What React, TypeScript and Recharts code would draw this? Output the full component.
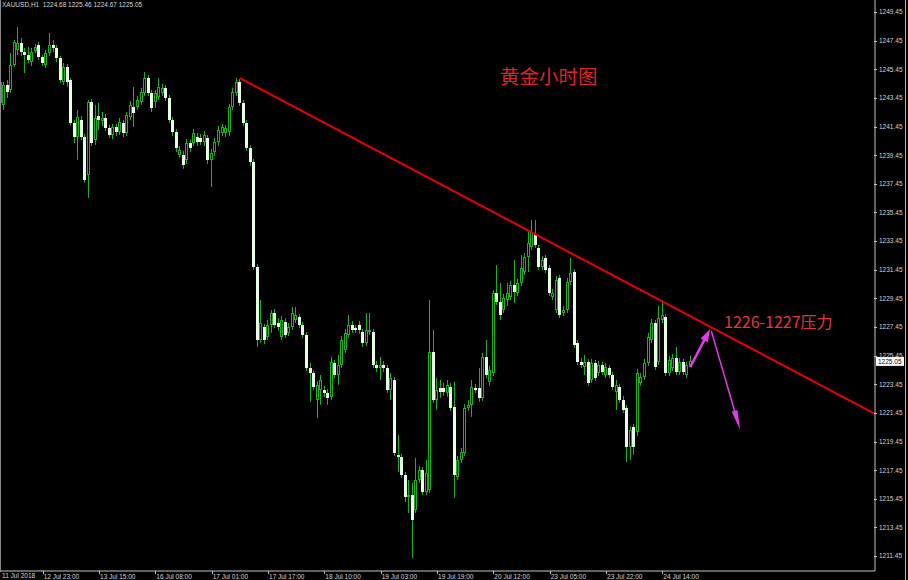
import React from "react";
import { Bar, ComposedChart, ReferenceLine, XAxis, YAxis } from "recharts";

// XAUUSD H1 bars as [open, high, low, close], grouped by the time label they start at
const BARS_12JUL_11 = [
  [1243.10, 1244.70, 1242.26, 1244.56], [1242.96, 1244.56, 1242.61, 1244.35], [1244.35, 1244.70, 1243.45, 1243.87],
  [1244.01, 1246.59, 1243.80, 1245.75], [1245.75, 1247.50, 1245.61, 1247.36], [1246.80, 1248.40, 1246.45, 1247.29],
  [1247.29, 1247.64, 1246.38, 1246.66], [1246.66, 1246.94, 1245.19, 1246.45], [1246.45, 1247.01, 1245.89, 1246.10],
  [1245.96, 1246.94, 1245.68, 1246.66], [1246.73, 1247.22, 1246.59, 1247.01], [1247.15, 1247.36, 1246.10, 1246.31],
];
const BARS_12JUL_23 = [
  [1246.31, 1246.45, 1245.68, 1245.89], [1245.75, 1246.80, 1245.54, 1246.59], [1246.59, 1247.99, 1246.38, 1247.15],
  [1247.15, 1247.50, 1246.66, 1246.94], [1246.94, 1247.15, 1245.96, 1246.24], [1246.24, 1246.38, 1244.49, 1244.70],
  [1244.56, 1245.89, 1244.35, 1245.61], [1245.61, 1245.82, 1244.22, 1244.56], [1244.70, 1244.84, 1241.49, 1241.70],
  [1241.70, 1241.91, 1240.30, 1240.72], [1240.72, 1242.61, 1239.12, 1242.12], [1241.91, 1242.19, 1240.51, 1240.72],
  [1240.72, 1240.93, 1237.51, 1237.72], [1238.07, 1243.31, 1236.46, 1243.17], [1243.17, 1243.38, 1240.09, 1240.30],
  [1240.51, 1242.96, 1240.16, 1242.05],
];
const BARS_13JUL_15 = [
  [1242.19, 1243.10, 1241.21, 1241.91], [1241.84, 1242.47, 1241.49, 1242.05], [1242.05, 1242.33, 1241.14, 1241.35],
  [1241.35, 1241.56, 1240.65, 1240.86], [1240.86, 1241.63, 1240.58, 1241.42], [1241.42, 1241.63, 1240.79, 1241.07],
  [1241.07, 1242.05, 1240.86, 1241.77], [1241.70, 1241.91, 1240.72, 1241.00], [1241.00, 1242.47, 1240.79, 1242.26],
  [1242.12, 1243.24, 1241.91, 1242.96], [1242.82, 1244.22, 1241.42, 1242.40], [1242.82, 1243.59, 1242.61, 1243.31],
  [1243.17, 1244.15, 1242.96, 1243.87], [1243.80, 1245.26, 1243.59, 1244.84], [1244.84, 1245.05, 1243.59, 1243.80],
  [1243.80, 1244.01, 1242.47, 1242.75],
];
const BARS_16JUL_08 = [
  [1243.17, 1244.01, 1242.75, 1243.80], [1243.52, 1244.84, 1243.31, 1244.22], [1243.80, 1244.42, 1243.59, 1244.15],
  [1244.15, 1244.35, 1243.24, 1243.45], [1243.45, 1243.66, 1241.70, 1241.91], [1241.91, 1242.12, 1240.79, 1241.07],
  [1241.07, 1241.28, 1239.68, 1239.95], [1239.47, 1240.09, 1239.26, 1239.82], [1239.47, 1239.75, 1238.49, 1238.77],
  [1239.12, 1240.58, 1238.84, 1240.30], [1240.30, 1240.51, 1239.68, 1239.95], [1240.30, 1241.28, 1240.09, 1241.00],
  [1240.72, 1241.00, 1240.09, 1240.37], [1240.65, 1240.93, 1240.16, 1240.37], [1240.37, 1241.14, 1240.09, 1240.86],
  [1240.65, 1240.86, 1238.84, 1239.12],
];
const BARS_17JUL_01 = [
  [1239.12, 1239.88, 1237.23, 1239.61], [1239.68, 1240.65, 1239.40, 1240.37], [1240.37, 1241.49, 1240.09, 1241.21],
  [1241.00, 1241.63, 1240.79, 1241.42], [1241.00, 1241.56, 1240.72, 1241.35], [1241.07, 1243.03, 1240.79, 1242.82],
  [1242.82, 1244.15, 1242.61, 1243.87], [1243.80, 1244.84, 1243.59, 1244.56], [1244.56, 1244.77, 1242.89, 1243.10],
  [1243.10, 1243.31, 1241.49, 1241.70], [1241.70, 1241.91, 1239.75, 1239.95], [1239.95, 1240.16, 1238.70, 1238.98],
  [1238.98, 1239.19, 1231.44, 1231.64], [1231.64, 1231.85, 1226.06, 1226.55], [1226.55, 1229.34, 1226.34, 1227.73],
  [1227.45, 1227.66, 1226.27, 1226.55],
];
const BARS_17JUL_17 = [
  [1226.76, 1227.94, 1226.55, 1227.59], [1227.59, 1228.64, 1227.04, 1228.43], [1228.43, 1228.71, 1227.38, 1227.59],
  [1227.73, 1228.08, 1227.18, 1227.45], [1226.76, 1228.22, 1226.55, 1227.94], [1227.80, 1228.08, 1226.69, 1226.90],
  [1227.04, 1227.73, 1226.83, 1227.45], [1227.45, 1228.85, 1227.25, 1228.43], [1227.94, 1228.85, 1227.73, 1228.29],
  [1228.15, 1228.36, 1227.38, 1227.59], [1227.59, 1227.80, 1226.69, 1226.90], [1226.90, 1227.11, 1224.38, 1224.59],
  [1224.59, 1224.94, 1222.22, 1224.24], [1224.24, 1224.45, 1223.06, 1223.27], [1222.36, 1223.68, 1221.10, 1223.41],
  [1223.06, 1224.10, 1222.01, 1223.75],
];
const BARS_18JUL_10 = [
  [1223.06, 1223.34, 1222.57, 1222.85], [1222.85, 1223.13, 1222.01, 1222.50], [1222.57, 1225.36, 1222.36, 1225.01],
  [1224.94, 1225.15, 1223.89, 1224.10], [1224.10, 1225.50, 1223.41, 1224.80], [1224.80, 1226.83, 1224.59, 1226.55],
  [1225.85, 1227.32, 1225.64, 1227.04], [1226.90, 1228.29, 1226.69, 1227.59], [1227.59, 1227.87, 1227.04, 1227.25],
  [1227.38, 1227.59, 1227.04, 1227.25], [1227.59, 1227.87, 1226.97, 1227.25], [1227.11, 1227.32, 1226.06, 1226.34],
  [1226.34, 1228.43, 1226.13, 1227.25], [1227.11, 1228.43, 1226.90, 1227.25], [1227.11, 1227.32, 1224.59, 1224.80],
  [1224.80, 1225.08, 1224.31, 1224.59],
];
const BARS_19JUL_03 = [
  [1224.59, 1225.36, 1223.75, 1224.80], [1224.80, 1225.08, 1224.31, 1224.59], [1224.59, 1224.80, 1222.85, 1223.06],
  [1223.06, 1224.24, 1222.36, 1223.89], [1223.75, 1223.96, 1218.45, 1218.66], [1218.52, 1219.91, 1217.33, 1218.38],
  [1218.38, 1218.59, 1216.91, 1217.12], [1217.12, 1217.33, 1215.23, 1215.58], [1215.58, 1216.77, 1214.46, 1215.72],
  [1215.72, 1216.56, 1211.32, 1213.98], [1214.67, 1218.31, 1214.46, 1216.77], [1216.77, 1217.75, 1216.56, 1217.47],
  [1217.47, 1217.68, 1215.72, 1215.93], [1215.93, 1218.17, 1215.72, 1217.26], [1216.07, 1229.34, 1215.86, 1225.71],
  [1225.71, 1227.25, 1222.15, 1222.36],
];
const BARS_19JUL_19 = [
  [1222.36, 1223.89, 1221.66, 1223.06], [1223.20, 1223.75, 1222.50, 1222.92], [1223.20, 1223.55, 1222.64, 1222.92],
  [1222.85, 1223.75, 1222.57, 1223.41], [1223.27, 1223.55, 1221.59, 1221.80], [1221.87, 1223.62, 1215.51, 1217.12],
  [1216.98, 1218.45, 1216.77, 1218.17], [1218.17, 1219.00, 1217.96, 1218.73], [1218.66, 1222.08, 1218.45, 1221.80],
  [1221.80, 1222.36, 1221.59, 1222.01], [1222.01, 1223.75, 1221.17, 1223.27], [1223.20, 1223.48, 1222.85, 1223.06],
  [1223.20, 1224.59, 1222.22, 1222.50], [1222.50, 1225.64, 1222.29, 1225.36], [1225.36, 1226.55, 1223.89, 1224.10],
  [1223.62, 1224.73, 1223.34, 1224.45],
];
const BARS_20JUL_12 = [
  [1224.24, 1230.04, 1224.03, 1229.83], [1229.83, 1231.78, 1228.99, 1229.20], [1229.20, 1230.53, 1227.94, 1228.29],
  [1228.64, 1229.76, 1228.43, 1229.48], [1229.34, 1230.53, 1228.92, 1229.83], [1229.55, 1230.67, 1229.34, 1230.39],
  [1230.39, 1232.13, 1229.13, 1229.90], [1229.83, 1230.81, 1229.62, 1230.53], [1230.53, 1232.48, 1230.32, 1231.57],
  [1231.30, 1232.62, 1231.09, 1232.34], [1232.34, 1234.09, 1231.30, 1233.32], [1233.04, 1234.93, 1232.83, 1234.09],
  [1233.88, 1234.93, 1232.97, 1233.18], [1232.97, 1233.18, 1231.44, 1231.64], [1231.64, 1232.41, 1231.44, 1232.13],
  [1232.27, 1232.48, 1231.23, 1231.44],
];
const BARS_23JUL_05 = [
  [1231.57, 1231.78, 1229.62, 1229.83], [1229.55, 1230.11, 1229.34, 1229.83], [1228.64, 1231.02, 1228.43, 1230.74],
  [1230.88, 1231.09, 1228.08, 1228.29], [1228.43, 1228.92, 1228.22, 1228.64], [1228.64, 1230.88, 1228.43, 1230.60],
  [1230.60, 1232.27, 1230.39, 1231.23], [1231.30, 1231.50, 1225.99, 1226.20], [1226.34, 1226.55, 1224.80, 1225.01],
  [1225.01, 1225.29, 1224.59, 1224.80], [1224.66, 1225.50, 1224.10, 1225.01], [1225.01, 1225.22, 1223.34, 1223.55],
  [1223.75, 1225.22, 1223.55, 1224.94], [1224.94, 1225.15, 1223.68, 1223.89], [1224.24, 1225.08, 1224.03, 1224.80],
  [1224.80, 1225.01, 1224.10, 1224.31],
];
const BARS_23JUL_22 = [
  [1224.10, 1224.94, 1223.89, 1224.66], [1224.59, 1224.80, 1223.89, 1224.10], [1224.10, 1224.31, 1223.06, 1223.27],
  [1222.92, 1223.75, 1221.66, 1223.41], [1223.27, 1223.48, 1222.15, 1222.36], [1222.36, 1222.64, 1221.45, 1221.66],
  [1221.80, 1222.01, 1218.03, 1219.07], [1219.07, 1220.54, 1218.17, 1220.26], [1220.47, 1220.68, 1218.52, 1219.07],
  [1220.12, 1224.52, 1219.84, 1224.24], [1223.55, 1224.24, 1223.34, 1223.96], [1223.96, 1225.22, 1223.75, 1224.94],
  [1224.94, 1227.04, 1224.73, 1226.76], [1226.55, 1228.01, 1226.34, 1227.73], [1227.73, 1227.94, 1224.45, 1224.66],
  [1225.01, 1228.92, 1224.80, 1228.08],
];
const BARS_24JUL_14 = [
  [1227.94, 1229.34, 1227.73, 1228.29], [1228.15, 1228.36, 1224.03, 1224.24], [1224.24, 1225.43, 1224.03, 1225.15],
  [1224.59, 1225.57, 1224.38, 1225.29], [1225.29, 1226.06, 1224.10, 1224.31], [1224.31, 1225.29, 1224.10, 1225.01],
  [1225.01, 1225.22, 1224.10, 1224.31], [1224.10, 1225.01, 1223.89, 1224.80], [1224.68, 1225.46, 1224.67, 1225.05],
];

const TIME_TICKS = [12, 28, 44, 60, 76, 92, 108, 124, 140, 156, 172, 188];
const TIME_LABELS = [
  "12 Jul 23:00", "13 Jul 15:00", "16 Jul 08:00", "17 Jul 01:00", "17 Jul 17:00", "18 Jul 10:00",
  "19 Jul 03:00", "19 Jul 19:00", "20 Jul 12:00", "23 Jul 05:00", "23 Jul 22:00", "24 Jul 14:00",
];
const PRICE_TICKS = [
  1211.45, 1213.45, 1215.45, 1217.45, 1219.45, 1221.45, 1223.45, 1225.45, 1227.45, 1229.45,
  1231.45, 1233.45, 1235.45, 1237.45, 1239.45, 1241.45, 1243.45, 1245.45, 1247.45, 1249.45,
];
const LAST_PRICE = 1225.05;

// resistance line and the expected path (bar index, price)
const TREND_LINE = [{ x: 68, y: 1244.84 }, { x: 248.4, y: 1221.38 }];
const ARROW_UP = [{ x: 195.9, y: 1224.66 }, { x: 201.6, y: 1227.32 }];
const ARROW_DOWN = [{ x: 201.9, y: 1227.18 }, { x: 210.1, y: 1220.26 }];

const WICK = "#22ad22";
const BEAR_FILL = "#e4ffe4";
const AXIS = "#c4c4c4";
const AXIS_TEXT = "#d4d4d4";
const FONT = '"Liberation Sans", Arial, sans-serif';
const CJK = '"Noto Sans CJK SC", sans-serif';
const MAGENTA = "#e83ae8";

const bars = [
  BARS_12JUL_11, BARS_12JUL_23, BARS_13JUL_15, BARS_16JUL_08, BARS_17JUL_01, BARS_17JUL_17, BARS_18JUL_10,
  BARS_19JUL_03, BARS_19JUL_19, BARS_20JUL_12, BARS_23JUL_05, BARS_23JUL_22, BARS_24JUL_14,
].flat();
const data = bars.map(([o, h, l, c], i) => ({ i, o, h, l, c, range: [l, h] }));

function Candle(props: any) {
  const { x, y, width, height } = props;
  const p = props.payload ?? props;
  if (p == null || p.h == null) return null;
  const top = Math.min(y, y + height);
  const hgt = Math.abs(height);
  const cx = Math.floor(x + width / 2);
  const py = (v: number) => top + ((p.h - v) / (p.h - p.l || 1)) * hgt;
  const bTop = Math.round(py(Math.max(p.o, p.c)));
  const bBot = Math.round(py(Math.min(p.o, p.c)));
  const bull = p.c >= p.o;
  let body;
  if (bull && bBot - bTop >= 2) {
    body = (
      <rect x={cx - 0.5} y={bTop + 0.5} width={2} height={bBot - bTop - 1} fill="#000" stroke={WICK} strokeWidth={1} />
    );
  } else {
    body = <rect x={cx - 1} y={bTop} width={3} height={Math.max(bBot - bTop, 1)} fill={bull ? WICK : BEAR_FILL} />;
  }
  return (
    <g>
      <line x1={cx + 0.5} x2={cx + 0.5} y1={top} y2={top + hgt} stroke={WICK} strokeWidth={1} />
      {body}
    </g>
  );
}

function PriceTick({ x, y, payload }: any) {
  const ry = Math.round(y) + 0.5;
  return (
    <g>
      <line x1={x - 4} x2={x - 1} y1={ry} y2={ry} stroke={AXIS} />
      <text x={x + 1} y={y} dy="0.36em" fill={AXIS_TEXT} fontSize={6.5} fontFamily={FONT}>
        {Number(payload.value).toFixed(2)}
      </text>
    </g>
  );
}

function TimeTick({ x, y, payload }: any) {
  const label = TIME_LABELS[TIME_TICKS.indexOf(payload.value)];
  const rx = Math.round(x) + 0.5;
  return (
    <g>
      <line x1={rx} x2={rx} y1={y} y2={y + 3} stroke={AXIS} />
      <text x={x + 1} y={y + 8} fill={AXIS_TEXT} fontSize={6.5} fontFamily={FONT} textAnchor="start">
        {label}
      </text>
    </g>
  );
}

function PriceTag({ viewBox }: any) {
  if (!viewBox) return null;
  const x = viewBox.x + viewBox.width + 1;
  const y = viewBox.y;
  return (
    <g>
      <rect x={x} y={y - 4.5} width={28} height={9} fill="#fff" />
      <text x={x + 2} y={y} dy="0.36em" fill="#000" fontSize={6.5} fontFamily={FONT}>
        {LAST_PRICE.toFixed(2)}
      </text>
    </g>
  );
}

function arrowShape(headLen: number, headW: number, lineW: number) {
  return (props: any) => {
    const { x1, y1, x2, y2 } = props;
    if ([x1, y1, x2, y2].some((v) => v == null || isNaN(v))) return <g />;
    const len = Math.hypot(x2 - x1, y2 - y1) || 1;
    const ux = (x2 - x1) / len;
    const uy = (y2 - y1) / len;
    const bx = x2 - ux * headLen;
    const by = y2 - uy * headLen;
    const nx = -uy * (headW / 2);
    const ny = ux * (headW / 2);
    return (
      <g>
        <line x1={x1} y1={y1} x2={bx + ux * 2} y2={by + uy * 2} stroke={MAGENTA} strokeWidth={lineW} />
        <polygon points={`${x2},${y2} ${bx + nx},${by + ny} ${bx - nx},${by - ny}`} fill={MAGENTA} />
      </g>
    );
  };
}

export default function App() {
  return (
    <div
      style={{
        position: "absolute",
        left: 0,
        top: 0,
        width: 908,
        height: 580,
        background: "#000",
        overflow: "hidden",
      }}
    >
      <ComposedChart width={908} height={580} data={data} margin={{ top: 0, right: 0, bottom: 0, left: 0 }}>
        <XAxis
          type="number"
          dataKey="i"
          domain={[-0.13, 248.4]}
          allowDataOverflow
          ticks={TIME_TICKS}
          interval={0}
          height={9}
          tickSize={0}
          tickMargin={0}
          tickLine={false}
          axisLine={{ stroke: AXIS }}
          tick={<TimeTick />}
        />
        <YAxis
          orientation="right"
          domain={[1210.41, 1250.29]}
          allowDataOverflow
          ticks={PRICE_TICKS}
          interval={0}
          width={33}
          tickSize={0}
          tickMargin={3}
          tickLine={false}
          axisLine={{ stroke: AXIS }}
          tick={<PriceTick />}
        />
        <Bar dataKey="range" barSize={3} shape={<Candle />} isAnimationActive={false} />
        <ReferenceLine segment={TREND_LINE} stroke="#e60000" strokeWidth={2} />
        <ReferenceLine segment={ARROW_UP} shape={arrowShape(13, 8, 2.5)} />
        <ReferenceLine segment={ARROW_DOWN} shape={arrowShape(20, 6, 1.5)} />
        <ReferenceLine y={LAST_PRICE} stroke="none" label={<PriceTag />} />
      </ComposedChart>

      <div
        style={{
          position: "absolute",
          left: 2,
          top: 1,
          fontFamily: FONT,
          fontSize: 6.5,
          lineHeight: "8px",
          color: AXIS_TEXT,
          whiteSpace: "pre",
        }}
      >
        {"XAUUSD,H1  1224.68 1225.46 1224.67 1225.05"}
      </div>
      <div
        style={{
          position: "absolute",
          left: 2,
          top: 572,
          fontFamily: FONT,
          fontSize: 6.5,
          lineHeight: "8px",
          color: AXIS_TEXT,
          whiteSpace: "pre",
        }}
      >
        11 Jul 2018
      </div>
      <div
        style={{
          position: "absolute",
          left: 500,
          top: 66,
          fontFamily: CJK,
          fontSize: 19.5,
          lineHeight: "19px",
          color: "#dc2424",
          whiteSpace: "pre",
        }}
      >
        黄金小时图
      </div>
      <div
        style={{
          position: "absolute",
          left: 724,
          top: 313,
          fontFamily: CJK,
          fontSize: 16,
          lineHeight: "16px",
          color: "#e43838",
          whiteSpace: "pre",
        }}
      >
        1226-1227压力
      </div>
      <div style={{ position: "absolute", left: 0, top: 0, width: 1, height: 572, background: "#8a8a8a" }} />
      <div style={{ position: "absolute", left: 905, top: 0, width: 1, height: 580, background: "#b0b0b0" }} />
    </div>
  );
}
